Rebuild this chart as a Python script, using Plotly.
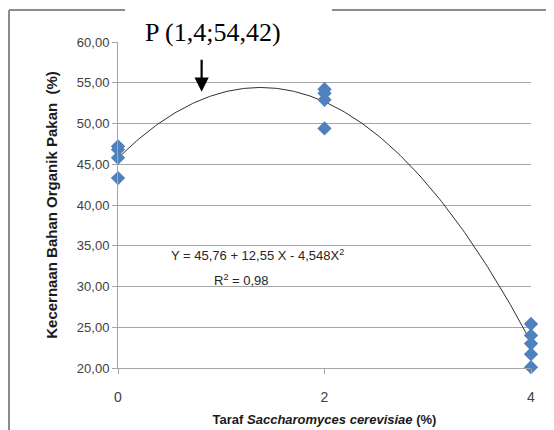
import numpy as np
import plotly.graph_objects as go

# Data
levels_x = [0, 0, 0, 0, 2, 2, 2, 2, 4, 4, 4, 4, 4]
digestibility = [47.2, 46.8, 45.8, 43.3, 54.2, 53.7, 52.9, 49.4, 25.4, 24.0, 23.0, 21.7, 20.1]
# Fitted quadratic coefficients (from the chart's equation)
coef_a, coef_b, coef_c = 45.76, 12.55, -4.548
y_ticks = [20, 25, 30, 35, 40, 45, 50, 55, 60]
y_tick_labels = ["20,00", "25,00", "30,00", "35,00", "40,00", "45,00", "50,00", "55,00", "60,00"]
x_ticks = [0, 2, 4]

xs = np.linspace(0, 4, 200)
ys = coef_a + coef_b * xs + coef_c * xs ** 2

# page pixel -> paper helpers (page has 8px body margin)
PL, PR, PT, PB = 118, 531, 42, 368
def px(x):
    return (x - PL) / (PR - PL)
def py(y):
    return (PB - y) / (PB - PT)

fig = go.Figure()
fig.add_trace(go.Scatter(x=xs, y=ys, mode="lines",
                         line=dict(color="#303030", width=1), hoverinfo="skip",
                         cliponaxis=False))
fig.add_trace(go.Scatter(x=levels_x, y=digestibility, mode="markers",
                         marker=dict(symbol="diamond", size=11, color="#4F81BD"),
                         cliponaxis=False))

grid = "#a6a6a6"
fig.update_layout(
    width=546, height=422,
    margin=dict(l=110, r=23, t=34, b=62, autoexpand=False),
    paper_bgcolor="white", plot_bgcolor="white",
    showlegend=False,
    font=dict(family="Liberation Sans", color="#404040", size=12),
    xaxis=dict(range=[0, 4], tickvals=x_ticks, ticktext=[str(v) for v in x_ticks],
               automargin=False,
               showgrid=False, zeroline=False, showline=True, linecolor=grid,
               ticks="outside", ticklen=5, tickcolor=grid, ticklabelstandoff=11,
               tickfont=dict(size=14, color="#404040"),
               title=dict(text="<b>Taraf <i>Saccharomyces cerevisiae</i> (%)</b>",
                          font=dict(size=13, color="#1a1a1a"), standoff=11)),
    yaxis=dict(range=[20, 60], tickvals=y_ticks, ticktext=y_tick_labels,
               automargin=False,
               showgrid=True, gridcolor=grid, gridwidth=1, zeroline=False,
               showline=True, linecolor=grid, ticks="outside", ticklen=5, tickcolor=grid,
               tickfont=dict(size=13, color="#404040"),
               title=dict(text="<b>Kecernaan Bahan Organik Pakan  (%)</b>",
                          font=dict(size=15, color="#1a1a1a"), standoff=15)),
)

# Chart frame (top and left borders)
fig.add_shape(type="line", xref="paper", yref="paper",
              x0=px(9), x1=px(570), y0=py(10), y1=py(10),
              line=dict(color="#8c8c8c", width=2))
fig.add_shape(type="line", xref="paper", yref="paper",
              x0=px(9), x1=px(9), y0=py(10), y1=py(440),
              line=dict(color="#8c8c8c", width=2))
# White backing behind the title label
fig.add_shape(type="rect", xref="paper", yref="paper", layer="above",
              x0=px(125), x1=px(332), y0=py(49), y1=py(3),
              fillcolor="white", line=dict(width=0))

fig.add_annotation(xref="paper", yref="paper", x=px(213), y=py(33),
                   xanchor="center", yanchor="middle",
                   text="P (1,4;54,42)", showarrow=False,
                   font=dict(family="Liberation Serif", size=26, color="black"))
fig.add_annotation(x=0.81, y=53.9, ax=0.81, ay=58.0, axref="x", ayref="y",
                   text="", showarrow=True, arrowhead=2, arrowsize=1.3, arrowwidth=2.2,
                   arrowcolor="black")
fig.add_annotation(x=1.35, y=33.9, xanchor="center", text="Y = 45,76 + 12,55 X - 4,548X<sup>2</sup>",
                   showarrow=False, font=dict(size=13, color="#262626"))
fig.add_annotation(x=1.20, y=30.8, xanchor="center", text="R<sup>2</sup> = 0,98",
                   showarrow=False, font=dict(size=13, color="#262626"))

fig.write_html("out.html")
